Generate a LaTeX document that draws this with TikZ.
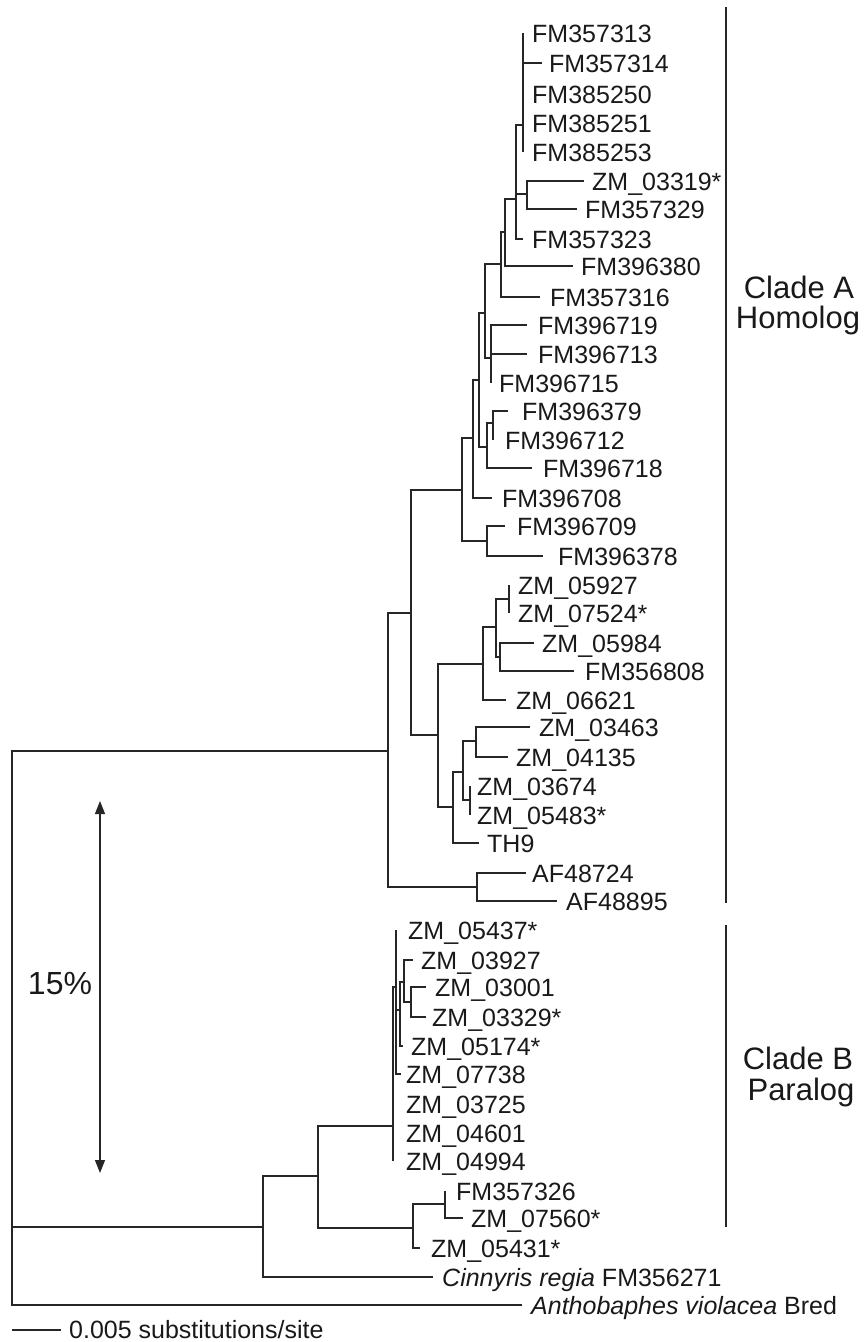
\documentclass[tikz,border=0pt]{standalone}
\usepackage{fontspec}
\setmainfont{Liberation Sans}
\usetikzlibrary{arrows.meta}
\newcommand\treeleaf[5]{%
  \coordinate (#1) at (#2,#3);
  \node[lab] (#1-t) at ({#4-1},{#3+9}) {#5};}
\begin{document}
\begin{tikzpicture}[x=1pt,y=-1pt,
  br/.style={line width=1.3pt, draw=black!85},
  lab/.style={anchor=base west, inner sep=0pt, font=\fontsize{25}{30}\selectfont, text=black!90},
  big/.style={anchor=base, inner sep=0pt, font=\fontsize{31}{36}\selectfont, text=black!90},
  cladebar/.style={line width=2pt, draw=black!85}]
\useasboundingbox (0,0) rectangle (864,1342);
% ---------- leaves ----------
\treeleaf{t1}{523}{33}{533}{FM357313}
\treeleaf{t2}{542}{63}{550}{FM357314}
\treeleaf{t3}{523}{94}{533}{FM385250}
\treeleaf{t4}{523}{123}{533}{FM385251}
\treeleaf{t5}{523}{152}{533}{FM385253}
\treeleaf{t6}{584}{181}{593}{ZM\_03319*}
\treeleaf{t7}{577}{209}{586}{FM357329}
\treeleaf{t8}{523}{239}{533}{FM357323}
\treeleaf{t9}{573}{266}{582}{FM396380}
\treeleaf{t10}{540}{297}{551}{FM357316}
\treeleaf{t11}{527}{325}{539}{FM396719}
\treeleaf{t12}{527}{354}{539}{FM396713}
\treeleaf{t13}{491}{383}{500}{FM396715}
\treeleaf{t14}{508}{411}{523}{FM396379}
\treeleaf{t15}{493}{440}{506}{FM396712}
\treeleaf{t16}{532}{468}{544}{FM396718}
\treeleaf{t17}{492}{498}{503}{FM396708}
\treeleaf{t18}{505}{526}{518}{FM396709}
\treeleaf{t19}{543}{556}{559}{FM396378}
\treeleaf{t20}{509}{585}{519}{ZM\_05927}
\treeleaf{t21}{509}{613}{519}{ZM\_07524*}
\treeleaf{t22}{534}{643}{543}{ZM\_05984}
\treeleaf{t23}{574}{671}{586}{FM356808}
\treeleaf{t24}{506}{700}{517}{ZM\_06621}
\treeleaf{t25}{530}{727}{540}{ZM\_03463}
\treeleaf{t26}{508}{757}{517}{ZM\_04135}
\treeleaf{t27}{470}{786}{478}{ZM\_03674}
\treeleaf{t28}{470}{815}{478}{ZM\_05483*}
\treeleaf{t29}{479}{843}{488}{TH9}
\treeleaf{t30}{526}{873}{533}{AF48724}
\treeleaf{t31}{557}{901}{567}{AF48895}
\treeleaf{t32}{396}{930}{409}{ZM\_05437*}
\treeleaf{t33}{413}{960}{422}{ZM\_03927}
\treeleaf{t34}{426}{987}{436}{ZM\_03001}
\treeleaf{t35}{426}{1017}{433}{ZM\_03329*}
\treeleaf{t36}{403}{1046}{412}{ZM\_05174*}
\treeleaf{t37}{401}{1074}{407}{ZM\_07738}
\treeleaf{t38}{393}{1104}{407}{ZM\_03725}
\treeleaf{t39}{393}{1133}{407}{ZM\_04601}
\treeleaf{t40}{393}{1161}{407}{ZM\_04994}
\treeleaf{t41}{445}{1191}{457}{FM357326}
\treeleaf{t42}{463}{1218}{472}{ZM\_07560*}
\treeleaf{t43}{420}{1248}{432}{ZM\_05431*}
\treeleaf{t44}{433}{1277}{443}{\textit{Cinnyris regia} FM356271}
\treeleaf{t45}{522}{1305}{532}{\textit{Anthobaphes violacea} Bred}
% ---------- internal nodes ----------
\coordinate (n1) at (523,125);
\coordinate (n1b) at (527,194);
\coordinate (n2) at (516,199);
\coordinate (n3) at (505,232);
\coordinate (n4) at (501,264);
\coordinate (n6) at (491,358);
\coordinate (n5) at (485,313);
\coordinate (n9) at (493,423);
\coordinate (n8) at (487,447);
\coordinate (n7) at (479,380);
\coordinate (n10) at (473,438);
\coordinate (n12) at (487,541);
\coordinate (n11) at (462,490);
\coordinate (n19) at (509,599);
\coordinate (n20) at (500,657);
\coordinate (n18) at (496,627);
\coordinate (n16) at (483,664);
\coordinate (n22) at (476,741);
\coordinate (n23) at (470,800);
\coordinate (n21) at (463,772);
\coordinate (n17) at (453,807);
\coordinate (n14) at (438,735);
\coordinate (n13) at (411,613);
\coordinate (n24) at (477,887);
\coordinate (n15) at (388,751);
\coordinate (n29) at (411,1002);
\coordinate (n28) at (404,982);
\coordinate (n27) at (400,1010);
\coordinate (n26) at (396,987);
\coordinate (n25) at (393,1126);
\coordinate (n32) at (445,1204);
\coordinate (n31) at (413,1228);
\coordinate (n30) at (318,1176);
\coordinate (n33) at (263,1227);
\coordinate (root) at (12,1000);
% ---------- branches ----------
\draw[br] (n1) |- (t1) (n1) |- (t2) (n1) |- (t3) (n1) |- (t4) (n1) |- (t5);
\draw[br] (n1b) |- (t6) (n1b) |- (t7);
\draw[br] (n2) |- (n1) (n2) |- (n1b) (n2) |- (t8);
\draw[br] (n3) |- (n2) (n3) |- (t9);
\draw[br] (n4) |- (n3) (n4) |- (t10);
\draw[br] (n6) |- (t11) (n6) |- (t12) (n6) |- (t13);
\draw[br] (n5) |- (n4) (n5) |- (n6);
\draw[br] (n9) |- (t14) (n9) |- (t15);
\draw[br] (n8) |- (n9) (n8) |- (t16);
\draw[br] (n7) |- (n5) (n7) |- (n8);
\draw[br] (n10) |- (n7) (n10) |- (t17);
\draw[br] (n12) |- (t18) (n12) |- (t19);
\draw[br] (n11) |- (n10) (n11) |- (n12);
\draw[br] (n19) |- (t20) (n19) |- (t21);
\draw[br] (n20) |- (t22) (n20) |- (t23);
\draw[br] (n18) |- (n19) (n18) |- (n20);
\draw[br] (n16) |- (n18) (n16) |- (t24);
\draw[br] (n22) |- (t25) (n22) |- (t26);
\draw[br] (n23) |- (t27) (n23) |- (t28);
\draw[br] (n21) |- (n22) (n21) |- (n23);
\draw[br] (n17) |- (n21) (n17) |- (t29);
\draw[br] (n14) |- (n16) (n14) |- (n17);
\draw[br] (n13) |- (n11) (n13) |- (n14);
\draw[br] (n24) |- (t30) (n24) |- (t31);
\draw[br] (n15) |- (n13) (n15) |- (n24);
\draw[br] (n29) |- (t34) (n29) |- (t35);
\draw[br] (n28) |- (t33) (n28) |- (n29);
\draw[br] (n27) |- (n28) (n27) |- (t36);
\draw[br] (n26) |- (t32) (n26) |- (n27) (n26) |- (t37);
\draw[br] (n25) |- (n26) (n25) |- (t38) (n25) |- (t39) (n25) |- (t40);
\draw[br] (n32) |- (t41) (n32) |- (t42);
\draw[br] (n31) |- (n32) (n31) |- (t43);
\draw[br] (n30) |- (n25) (n30) |- (n31);
\draw[br] (n33) |- (n30) (n33) |- (t44);
\draw[br] (root) |- (n15) (root) |- (n33) (root) |- (t45);
% ---------- scale bar ----------
\coordinate (sb1) at (12,1330);
\coordinate (sb2) at (61,1330);
\draw[br] (sb1) -- (sb2);
\node[lab] (sbt) at (69,1338) {0.005 substitutions/site};
% ---------- arrow ----------
\coordinate (a1) at (100,801);
\coordinate (a2) at (100,1173);
\draw[line width=1.4pt, draw=black!85, {Triangle[width=10pt,length=13pt]}-{Triangle[width=10pt,length=13pt]}] (a1) -- (a2);
\node[big, font=\fontsize{32}{36}\selectfont] (pct) at (60,994) {15\%};
% ---------- clade bars ----------
\coordinate (ca1) at (726,7);
\coordinate (ca2) at (726,903);
\coordinate (cb1) at (726,925);
\coordinate (cb2) at (726,1227);
\draw[cladebar] (ca1) -- (ca2);
\draw[cladebar] (cb1) -- (cb2);
\node[big] (cla) at (799,298) {Clade A};
\node[big] (clah) at (798,328) {Homolog};
\node[big] (clb) at (798,1069) {Clade B};
\node[big] (clbp) at (801,1100) {Paralog};
\end{tikzpicture}
\end{document}
